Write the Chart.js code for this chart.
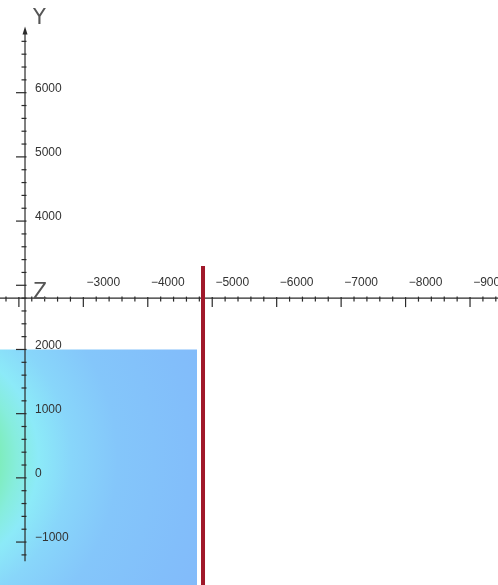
<!DOCTYPE html>
<html>
<head>
<meta charset="utf-8">
<script src="https://cdn.jsdelivr.net/npm/chart.js@4.4.1/dist/chart.umd.min.js"></script>
<style>
  html, body { margin: 0; padding: 0; background: #ffffff; }
  #wrap { width: 498px; height: 585px; }
  canvas { display: block; }
</style>
</head>
<body>
<div id="wrap"><canvas id="c" width="498" height="585"></canvas></div>
<script>
// ---- data ----
const xTickValues = [-3000, -4000, -5000, -6000, -7000, -8000, -9000];
const yTickValues = [6000, 5000, 4000, 2000, 1000, 0, -1000];
const xAxisTitle = "Z";
const yAxisTitle = "Y";

const blockX = [-1700, -4764];      // shaded block, left -> right
const blockTopY = [2000, 2000];

const redLineX = [-4857, -4857];
const redLineY = [3300, -1700];

// axis geometry (data coordinates of where the axes sit)
const yAxisAtX = -2095;
const xAxisAtY = 2800;
const yAxisRange = [-1300, 7000];

const toPts = (xs, ys) => xs.map((x, i) => ({ x: x, y: ys[i] }));
const fmt = v => (v < 0 ? "\u2212" + Math.abs(v) : String(v));

const axesPlugin = {
  id: "maplesAxes",
  afterDatasetDraw(chart, args) {
    if (args.index !== 1) return;
    const c = chart.ctx;
    const sx = chart.scales.x, sy = chart.scales.y;
    const ax = sx.getPixelForValue(yAxisAtX);
    const ay = sy.getPixelForValue(xAxisAtY);
    c.save();
    c.strokeStyle = "#2a2a2a";
    c.fillStyle = "#2a2a2a";
    c.lineWidth = 1.2;

    // Y axis line
    const yTop = sy.getPixelForValue(yAxisRange[1]);
    const yBot = sy.getPixelForValue(yAxisRange[0]);
    c.beginPath(); c.moveTo(ax, yTop + 4); c.lineTo(ax, yBot); c.stroke();
    // arrow
    c.beginPath(); c.moveTo(ax, yTop - 2); c.lineTo(ax - 2.5, yTop + 6); c.lineTo(ax + 2.5, yTop + 6); c.closePath(); c.fill();
    // Y ticks
    for (let v = -1200; v <= 6800; v += 200) {
      const p = sy.getPixelForValue(v);
      const major = v % 1000 === 0;
      c.beginPath();
      c.moveTo(ax - (major ? 9 : 3.5), p);
      c.lineTo(ax + 1.5, p);
      c.stroke();
    }
    // X axis line
    c.beginPath(); c.moveTo(0, ay); c.lineTo(chart.width, ay); c.stroke();
    // X ticks
    for (let v = -1800; v >= -9400; v -= 200) {
      const p = sx.getPixelForValue(v);
      const major = v % 1000 === 0;
      c.beginPath();
      c.moveTo(p, ay - (major ? 1 : 1.5));
      c.lineTo(p, ay + (major ? 9 : 3.5));
      c.stroke();
    }

    // labels
    c.fillStyle = "#333";
    c.font = '12px "Liberation Sans", Arial, sans-serif';
    c.textBaseline = "middle";
    c.textAlign = "left";
    yTickValues.forEach(v => {
      c.fillText(fmt(v), ax + 10, sy.getPixelForValue(v) - 4);
    });
    c.textAlign = "center";
    xTickValues.forEach(v => {
      c.fillText(fmt(v), sx.getPixelForValue(v) + 20, ay - 15);
    });

    // axis titles
    c.fillStyle = "#555";
    c.textAlign = "left";
    c.textBaseline = "alphabetic";
    c.font = '21px "DejaVu Sans", sans-serif';
    c.fillText(yAxisTitle, ax + 8, yTop - 5);
    c.font = '23px "Liberation Sans", sans-serif';
    c.fillText(xAxisTitle, ax + 8, ay + 1);
    c.restore();
  }
};

function blockFill(context) {
  const chart = context.chart;
  const area = chart.chartArea;
  if (!area) return "rgb(130,190,250)";
  const cx = chart.scales.x.getPixelForValue(blockX[0]) - 80;
  const cy = chart.scales.y.getPixelForValue(300);
  const g = chart.ctx.createRadialGradient(cx, cy, 0, cx, cy, 360);
  g.addColorStop(0.0, "rgb(120,236,175)");
  g.addColorStop(0.22, "rgb(126,237,188)");
  g.addColorStop(0.27, "rgb(134,237,220)");
  g.addColorStop(0.33, "rgb(140,234,248)");
  g.addColorStop(0.42, "rgb(136,214,250)");
  g.addColorStop(0.55, "rgb(132,198,250)");
  g.addColorStop(0.75, "rgb(130,190,250)");
  g.addColorStop(1.0, "rgb(130,182,250)");
  return g;
}

new Chart(document.getElementById("c"), {
  type: "scatter",
  data: {
    datasets: [
      {
        data: toPts(redLineX, redLineY),
        showLine: true,
        borderColor: "rgb(160,24,42)",
        borderWidth: 4,
        pointRadius: 0,
        fill: false
      },
      {
        data: toPts(blockX, blockTopY),
        showLine: true,
        borderWidth: 0,
        borderColor: "rgba(0,0,0,0)",
        pointRadius: 0,
        fill: "start",
        backgroundColor: blockFill
      }
    ]
  },
  options: {
    responsive: false,
    animation: false,
    devicePixelRatio: 1,
    layout: { padding: 0 },
    plugins: { legend: { display: false }, tooltip: { enabled: false } },
    scales: {
      x: { type: "linear", display: false, reverse: true, min: -9434, max: -1707 },
      y: { type: "linear", display: false, min: -1669, max: 7444 }
    }
  },
  plugins: [axesPlugin]
});
</script>
</body>
</html>
